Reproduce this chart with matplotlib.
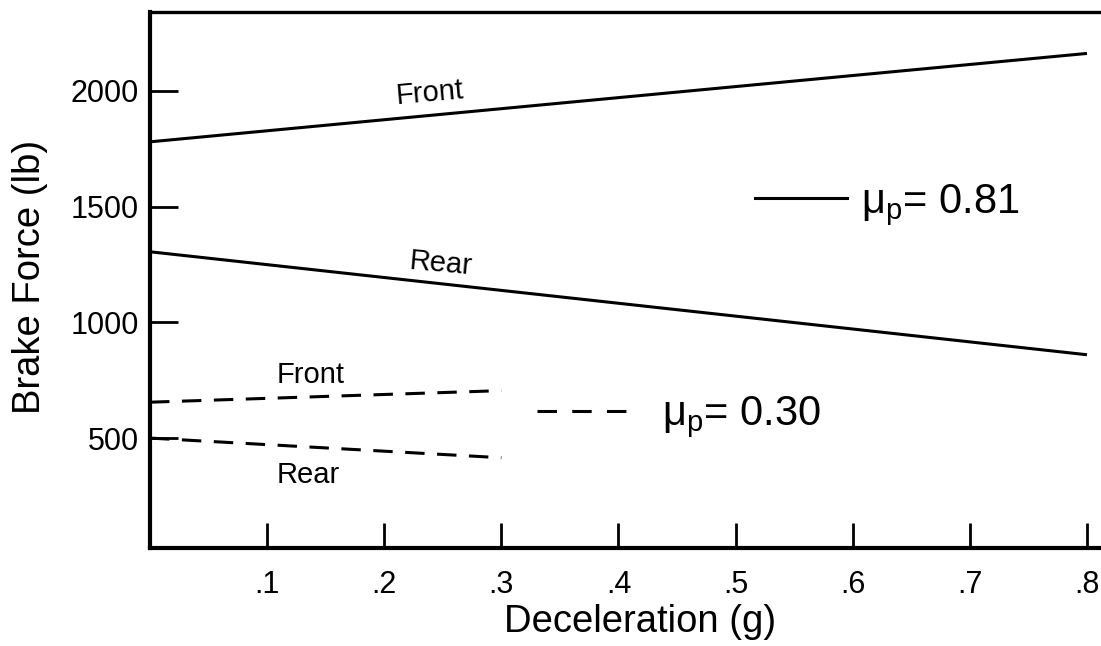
import matplotlib
matplotlib.use("Agg")
import matplotlib.pyplot as plt
from matplotlib.lines import Line2D

plt.rcParams['font.family'] = ['Liberation Sans', 'DejaVu Sans']
plt.rcParams['mathtext.fontset'] = 'custom'
plt.rcParams['mathtext.rm'] = 'Liberation Sans'
plt.rcParams['mathtext.it'] = 'Liberation Sans'
plt.rcParams['lines.scale_dashes'] = False

# Data (deceleration in g, brake force in lb)
decel_high = [0.0, 0.8]
front_high = [1780, 2162]
rear_high = [1305, 860]

decel_low = [0.0, 0.3]
front_low = [655, 705]
rear_low = [500, 415]

xticks = [0.1, 0.2, 0.3, 0.4, 0.5, 0.6, 0.7, 0.8]
xticklabels = ['.1', '.2', '.3', '.4', '.5', '.6', '.7', '.8']
yticks = [500, 1000, 1500, 2000]
yticklabels = ['500', '1000', '1500', '2000']

W, H = 1101, 646
fig = plt.figure(figsize=(W / 100, H / 100), dpi=100)
ax = fig.add_axes([150 / W, 98 / H, 951 / W, 536 / H])

lw = 2.2
dash = (14, 9)
ax.plot(decel_high, front_high, color='black', lw=lw, solid_capstyle='butt')
ax.plot(decel_high, rear_high, color='black', lw=lw, solid_capstyle='butt')
ax.plot(decel_low, front_low, color='black', lw=lw, dashes=dash)
ax.plot(decel_low, rear_low, color='black', lw=lw, dashes=dash)

ax.set_xlim(0, 0.812)
ax.set_ylim(25, 2341)

ax.set_xticks(xticks)
ax.set_xticklabels(xticklabels)
ax.set_yticks(yticks)
ax.set_yticklabels(yticklabels)
ax.tick_params(axis='both', direction='in', width=2, labelsize=22, colors='black')
ax.tick_params(axis='x', length=18, pad=16)
ax.tick_params(axis='y', length=20, pad=8)

for s in ['left', 'bottom']:
    ax.spines[s].set_linewidth(3)
ax.spines['top'].set_linewidth(2.4)
ax.spines['right'].set_visible(False)

ax.set_xlabel('Deceleration (g)', fontsize=27.5)
ax.xaxis.set_label_coords(0.515, -0.105)
ax.set_ylabel('Brake Force (lb)', fontsize=27.5)
ax.yaxis.set_label_coords(-0.107, 0.506)

# Curve labels
ax.text(0.239, 1990, 'Front', fontsize=21, rotation=5, ha='center', va='center')
ax.text(0.248, 1252, 'Rear', fontsize=21, rotation=-5, ha='center', va='center')
ax.text(0.137, 772, 'Front', fontsize=21, ha='center', va='center')
ax.text(0.135, 340, 'Rear', fontsize=21, ha='center', va='center')

# Key entries
solid_h = Line2D([], [], color='black', lw=lw)
dash_h = Line2D([], [], color='black', lw=lw, dashes=(14, 11))
leg1 = ax.legend([solid_h], [r'$\mathregular{\mu_p}$= 0.81'], loc='center left',
                 bbox_to_anchor=(0.636, 0.64), frameon=False, fontsize=30,
                 handlelength=2.2, handletextpad=0.35, borderpad=0, borderaxespad=0)
ax.add_artist(leg1)
ax.legend([dash_h], [r'$\mathregular{\mu_p}$= 0.30'], loc='center left',
          bbox_to_anchor=(0.407, 0.244), frameon=False, fontsize=30,
          handlelength=2.15, handletextpad=0.85, borderpad=0, borderaxespad=0)

fig.savefig('out.png', dpi=100)
